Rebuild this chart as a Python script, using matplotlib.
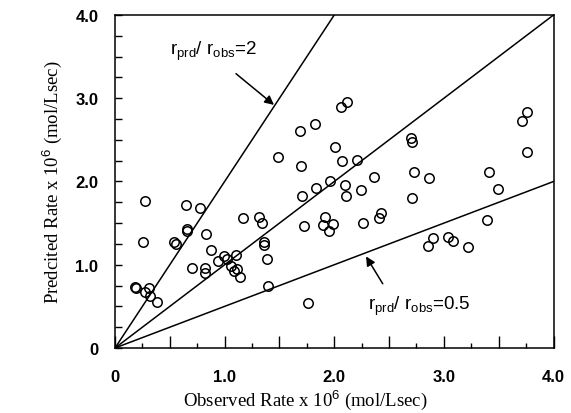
import matplotlib
matplotlib.use("Agg")
import numpy as np
from matplotlib import pyplot as plt
from matplotlib.ticker import FixedLocator, FuncFormatter

# observed / predicted rates (x 10^6 mol/Lsec)
observed = [0.18, 0.19, 0.27, 0.31, 0.32, 0.385, 0.255, 0.27,
            0.54, 0.556, 0.647, 0.653, 0.66, 0.70, 0.775, 0.82, 0.823, 0.83, 0.88,
            0.94, 0.996, 1.018, 1.057, 1.084, 1.10, 1.11, 1.14, 1.163,
            1.31, 1.345, 1.36, 1.36, 1.39, 1.40, 1.49,
            1.686, 1.70, 1.71, 1.72, 1.765, 1.82, 1.83, 1.90, 1.92, 1.95, 1.96, 1.99,
            2.01, 2.06, 2.07, 2.096, 2.11, 2.12, 2.21, 2.24, 2.26, 2.36, 2.41, 2.43,
            2.70, 2.706, 2.71, 2.73, 2.855, 2.86, 2.90, 3.04, 3.08, 3.22,
            3.39, 3.41, 3.49, 3.71, 3.76, 3.76]
predicted = [0.734, 0.72, 0.667, 0.72, 0.627, 0.547, 1.27, 1.76,
             1.27, 1.245, 1.72, 1.405, 1.425, 0.955, 1.685, 0.955, 0.906, 1.365, 1.18,
             1.046, 1.105, 1.073, 0.986, 0.93, 1.114, 0.946, 0.854, 1.56,
             1.57, 1.505, 1.275, 1.237, 1.07, 0.746, 2.30,
             2.61, 2.19, 1.82, 1.465, 0.535, 2.69, 1.92, 1.476, 1.57, 1.41, 2.01, 1.49,
             2.41, 2.89, 2.25, 1.96, 1.82, 2.96, 2.26, 1.895, 1.50, 2.05, 1.565, 1.625,
             2.52, 2.475, 1.80, 2.11, 1.23, 2.04, 1.32, 1.335, 1.285, 1.21,
             1.54, 2.11, 1.91, 2.73, 2.83, 2.36]

ratios = [2, 1, 0.5]

plt.rcParams['mathtext.fontset'] = 'custom'
plt.rcParams['mathtext.rm'] = 'Liberation Sans'
plt.rcParams['mathtext.it'] = 'Liberation Sans'

fig = plt.figure(figsize=(5.71, 4.14), dpi=100)
ax = fig.add_axes([0.2014, 0.157, 0.7680, 0.8044])

# ratio lines through the origin
xs = np.array([0, 4.0])
for r in ratios:
    ax.plot(xs, r * xs, color='black', lw=1.1)

ax.plot(observed, predicted, 'o', mfc='none', mec='black', ms=6.8, mew=1.1)

ax.set_xlim(0, 4.0)
ax.set_ylim(0, 4.0)

tick_font = dict(family='Liberation Sans', size=12, weight='semibold')
fmt = FuncFormatter(lambda v, p: '0' if v == 0 else ('%.1f' % v if abs(v - round(v)) < 1e-6 else ''))
ax.xaxis.set_major_locator(FixedLocator(np.arange(0, 4.01, 0.5)))
ax.xaxis.set_minor_locator(FixedLocator(np.arange(0.25, 4.0, 0.5)))
ax.yaxis.set_major_locator(FixedLocator(np.arange(0, 4.01, 1.0)))
ax.yaxis.set_minor_locator(FixedLocator(np.arange(0.25, 4.0, 0.25)))
ax.xaxis.set_major_formatter(fmt)
ax.yaxis.set_major_formatter(fmt)
ax.tick_params(axis='x', which='major', direction='in', length=8.5, width=1, pad=15)
ax.tick_params(axis='x', which='minor', direction='in', length=3.6, width=1)
ax.tick_params(axis='y', which='both', direction='in', length=5, width=1, pad=12)
for lab in ax.get_xticklabels() + ax.get_yticklabels():
    lab.set_fontproperties(matplotlib.font_manager.FontProperties(**tick_font))
for s in ax.spines.values():
    s.set_linewidth(1.1)

ax.set_xlabel('Observed Rate x 10$^{6}$ (mol/Lsec)', family='Liberation Serif', size=13.5)
ax.xaxis.set_label_coords(0.433, -0.118)
ax.set_ylabel('Predcited Rate x 10$^{6}$ (mol/Lsec)', family='Liberation Serif', size=13.5, labelpad=8)

ax.annotate(r'$\mathregular{r_{prd}/\ r_{obs}}$=2', xy=(1.45, 2.92), xytext=(0.5, 3.53),
            fontsize=13.5, family='Liberation Sans',
            arrowprops=dict(arrowstyle='-|>', color='black', lw=1.1, shrinkA=10, shrinkB=0,
                            relpos=(0.6, 0.0)))
ax.annotate(r'$\mathregular{r_{prd}/\ r_{obs}}$=0.5', xy=(2.29, 1.10), xytext=(2.31, 0.47),
            fontsize=13.5, family='Liberation Sans',
            arrowprops=dict(arrowstyle='-|>', color='black', lw=1.1, shrinkA=6, shrinkB=0,
                            relpos=(0.2, 1.0)))

fig.savefig('out.png', dpi=100)
